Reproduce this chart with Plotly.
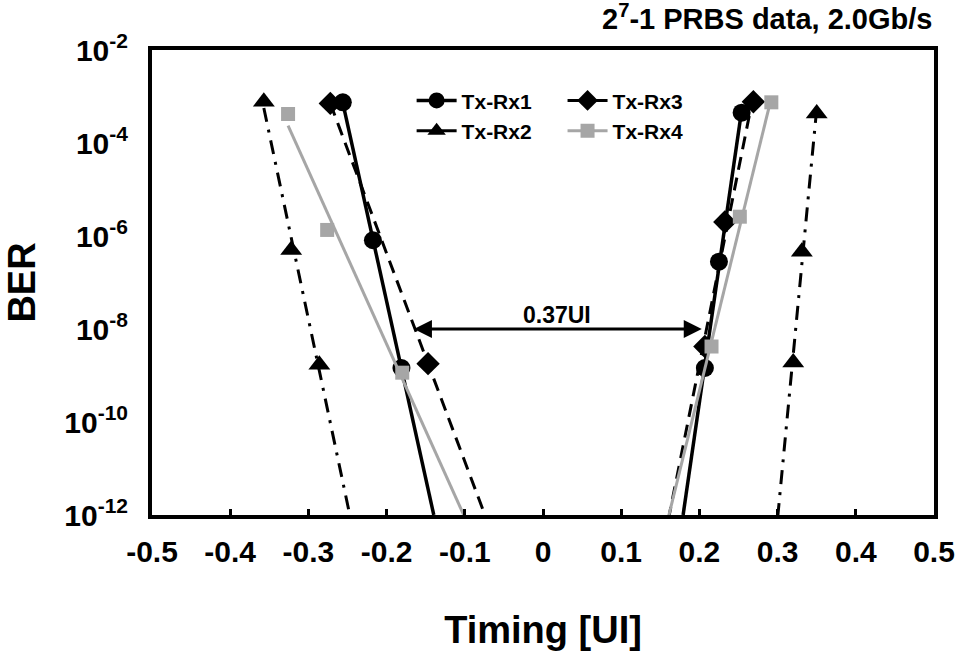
import numpy as np
import plotly.graph_objects as go

# Measured BER bathtub points (timing offset in UI, BER), left and right edges
rx1_left_x = [-0.256, -0.2175, -0.181]
rx1_left_y = [7.5e-4, 8.1e-7, 1.45e-9]
rx1_right_x = [0.207, 0.225, 0.254]
rx1_right_y = [1.45e-9, 2.8e-7, 4.5e-4]

rx2_left_x = [-0.357, -0.322, -0.286]
rx2_left_y = [7.7e-4, 5.0e-7, 1.7e-9]
rx2_right_x = [0.320, 0.331, 0.350]
rx2_right_y = [1.9e-9, 4.6e-7, 4.3e-4]

rx3_left_x = [-0.272, -0.147]
rx3_left_y = [7.1e-4, 1.8e-9]
rx3_right_x = [0.207, 0.2325, 0.269]
rx3_right_y = [4.2e-9, 2.0e-6, 7.7e-4]

rx4_left_x = [-0.326, -0.276, -0.180]
rx4_left_y = [4.2e-4, 1.35e-6, 1.15e-9]
rx4_right_x = [0.2155, 0.2517, 0.292]
rx4_right_y = [4.2e-9, 2.6e-6, 7.5e-4]

# Axis ticks
x_ticks = [-0.5, -0.4, -0.3, -0.2, -0.1, 0, 0.1, 0.2, 0.3, 0.4, 0.5]
x_tick_text = ["-0.5", "-0.4", "-0.3", "-0.2", "-0.1", "0", "0.1", "0.2", "0.3", "0.4", "0.5"]
y_exponents = [-2, -4, -6, -8, -10, -12]

BER_FLOOR = 1e-12
eye_opening_ui = 0.37
eye_left = -0.167
eye_level = 1e-8

FONT = "Liberation Sans, Arial, sans-serif"
GREY = "#a6a6a6"

series = [
    dict(name="Tx-Rx1", lx=rx1_left_x, ly=rx1_left_y, rx=rx1_right_x, ry=rx1_right_y,
         color="black", dash="solid", symbol="circle", msize=18, width=3.5, legend="legend"),
    dict(name="Tx-Rx2", lx=rx2_left_x, ly=rx2_left_y, rx=rx2_right_x, ry=rx2_right_y,
         color="black", dash="14px,8px,3px,8px", symbol="triangle-up", msize=19, width=3, legend="legend"),
    dict(name="Tx-Rx3", lx=rx3_left_x, ly=rx3_left_y, rx=rx3_right_x, ry=rx3_right_y,
         color="black", dash="13px,8px", symbol="diamond", msize=18, width=3, legend="legend2"),
    dict(name="Tx-Rx4", lx=rx4_left_x, ly=rx4_left_y, rx=rx4_right_x, ry=rx4_right_y,
         color=GREY, dash="solid", symbol="square", msize=14, width=3, legend="legend2"),
]


def trend(xs, ys, outer):
    """Exponential trendline (straight on a log axis) from the outermost point to the BER floor."""
    slope, icpt = np.polyfit(xs, np.log10(ys), 1)
    x_floor = (np.log10(BER_FLOOR) - icpt) / slope
    x_end = np.array([outer, x_floor])
    return x_end, 10 ** (slope * x_end + icpt)


fig = go.Figure()

for s in series:
    lxl, lyl = trend(s["lx"], s["ly"], s["lx"][0])
    rxl, ryl = trend(s["rx"], s["ry"], s["rx"][-1])
    line = dict(color=s["color"], width=s["width"], dash=s["dash"])
    marker = dict(symbol=s["symbol"], size=s["msize"], color=s["color"], line=dict(width=0))
    # trendlines (two edges of the bathtub)
    fig.add_trace(go.Scatter(x=list(lxl) + [None] + list(rxl), y=list(lyl) + [None] + list(ryl),
                             mode="lines", line=line, showlegend=False, hoverinfo="skip"))
    # measured points
    fig.add_trace(go.Scatter(x=s["lx"] + [None] + s["rx"], y=s["ly"] + [None] + s["ry"],
                             mode="markers", marker=marker, showlegend=False))
    # legend entry showing line and marker together
    fig.add_trace(go.Scatter(x=[None], y=[None], mode="lines+markers", name=s["name"],
                             line=dict(color=s["color"], width=s["width"], dash="solid"),
                             marker=marker, legend=s["legend"], legendgroup=s["name"]))

# Eye-opening arrow at BER = 1e-8
fig.add_annotation(x=eye_left + eye_opening_ui, y=np.log10(eye_level), ax=eye_left, ay=np.log10(eye_level),
                   xref="x", yref="y", axref="x", ayref="y", showarrow=True, arrowhead=2,
                   arrowside="end+start", arrowsize=1.2, arrowwidth=3, arrowcolor="black", text="")
fig.add_annotation(x=eye_left + eye_opening_ui / 2, y=np.log10(eye_level), yshift=14,
                   xref="x", yref="y", showarrow=False, text=f"{eye_opening_ui:.2f}UI",
                   font=dict(family=FONT, size=23, color="black", weight="bold"))

fig.add_annotation(x=1.0, y=1.07, xref="paper", yref="paper", xanchor="right", yanchor="middle",
                   showarrow=False, text="2<sup>7</sup>-1 PRBS data, 2.0Gb/s",
                   font=dict(family=FONT, size=29, color="black", weight="bold"))

legend_common = dict(font=dict(family=FONT, size=21, color="black", weight="bold"),
                     bgcolor="rgba(0,0,0,0)", borderwidth=0, tracegroupgap=0,
                     itemwidth=40, xanchor="left", yanchor="top")

fig.update_layout(
    width=962, height=653,
    margin=dict(l=152, r=28, t=50, b=138, autoexpand=False),
    paper_bgcolor="white", plot_bgcolor="white",
    font=dict(family=FONT, color="black"),
    legend=dict(x=0.332, y=0.935, **legend_common),
    legend2=dict(x=0.525, y=0.935, **legend_common),
    xaxis=dict(range=[-0.5, 0.5], tickvals=x_ticks, ticktext=x_tick_text,
               ticks="inside", ticklen=6, tickwidth=3, tickcolor="black",
               ticklabelstandoff=7, automargin=False,
               showline=True, linewidth=4, linecolor="black", mirror=True,
               showgrid=False, zeroline=False,
               tickfont=dict(family=FONT, size=30, color="black", weight="bold"),
               title=dict(text="Timing [UI]", standoff=50,
                          font=dict(family=FONT, size=38, color="black", weight="bold"))),
    yaxis=dict(type="log", range=[-12, -2],
               tickvals=[10.0 ** e for e in y_exponents],
               ticktext=[f"10<sup>{e}</sup>" for e in y_exponents],
               ticks="", ticklabelstandoff=14, automargin=False,
               showline=True, linewidth=4, linecolor="black", mirror=True,
               showgrid=False, zeroline=False,
               tickfont=dict(family=FONT, size=30, color="black", weight="bold"),
               title=dict(text="BER", standoff=18,
                          font=dict(family=FONT, size=38, color="black", weight="bold"))),
)

fig.write_html("out.html")
